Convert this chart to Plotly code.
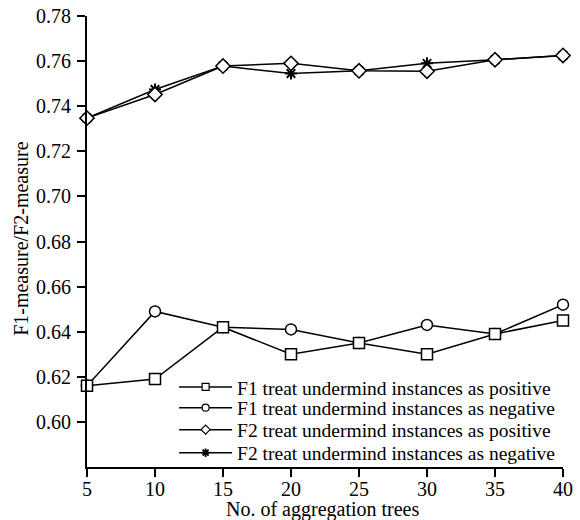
import plotly.graph_objects as go

trees = [5, 10, 15, 20, 25, 30, 35, 40]
f1_pos = [0.616, 0.619, 0.642, 0.630, 0.635, 0.630, 0.639, 0.645]
f1_neg = [0.616, 0.649, 0.642, 0.641, 0.635, 0.643, 0.639, 0.652]
f2_pos = [0.7347, 0.7452, 0.7578, 0.759, 0.7557, 0.7555, 0.7606, 0.7625]
f2_neg = [0.7347, 0.7474, 0.7578, 0.7545, 0.7557, 0.759, 0.7606, 0.7625]
names = ["F1 treat undermind instances as positive",
         "F1 treat undermind instances as negative",
         "F2 treat undermind instances as positive",
         "F2 treat undermind instances as negative"]
yticks = [0.60, 0.62, 0.64, 0.66, 0.68, 0.70, 0.72, 0.74, 0.76, 0.78]
xticks = [5, 10, 15, 20, 25, 30, 35, 40]
x_title = "No. of aggregation trees"
y_title = "F1-measure/F2-measure"

font = "Liberation Serif"
fig = go.Figure()
series = [(f1_pos, "square", 11, 7), (f1_neg, "circle", 11, 7),
          (f2_pos, "diamond", 11, 7), (f2_neg, "asterisk-open", 10, 7)]
legend_ids = ["legend", "legend2", "legend3", "legend4"]
draw_order = [1, 0, 3, 2]  # hollow markers drawn over the ones they hide

for i in draw_order:
    vals, sym, sz, lsz = series[i]
    star = sym.startswith("asterisk")
    mcol = "black" if star else "white"
    fig.add_trace(go.Scatter(
        x=trees, y=vals, name=names[i], mode="lines+markers", showlegend=False,
        line=dict(color="black", width=1.5),
        marker=dict(symbol=sym, size=sz, color=mcol,
                    line=dict(color="black", width=2 if star else 1.5)),
        cliponaxis=False,
    ))
for i in range(4):
    vals, sym, sz, lsz = series[i]
    star = sym.startswith("asterisk")
    mcol = "black" if star else "white"
    fig.add_trace(go.Scatter(
        x=[None], y=[None], name=names[i], mode="lines+markers", showlegend=True,
        legend=legend_ids[i],
        line=dict(color="black", width=1.5),
        marker=dict(symbol=sym, size=lsz, color=mcol,
                    line=dict(color="black", width=1.8 if star else 1.2)),
    ))

leg_y = [0.1769, 0.1308, 0.0820, 0.0310]
leg_common = dict(x=0.183, xanchor="left", yanchor="middle",
                  bgcolor="rgba(0,0,0,0)", font=dict(family=font, size=19.5),
                  itemwidth=53, borderwidth=0)

annotations = []
for v in xticks:
    annotations.append(dict(text=str(v), xref="x", x=v, yref="paper", y=0,
                            xanchor="center", yanchor="top", yshift=-9,
                            showarrow=False, font=dict(family=font, size=20)))
for v in yticks:
    annotations.append(dict(text=f"{v:.2f}", xref="paper", x=0, yref="y", y=v,
                            xanchor="right", yanchor="middle", xshift=-14,
                            showarrow=False, font=dict(family=font, size=20)))
annotations.append(dict(text=x_title, xref="paper", yref="paper", x=0.495, y=-0.0945,
                        xanchor="center", yanchor="middle", showarrow=False,
                        font=dict(family=font, size=20)))
annotations.append(dict(text=y_title, xref="paper", yref="paper", x=-0.1387, y=0.508,
                        xanchor="center", yanchor="middle", showarrow=False,
                        textangle=-90, font=dict(family=font, size=20)))

fig.update_layout(
    width=580, height=520,
    margin=dict(l=87, r=17, t=16, b=53, autoexpand=False),
    paper_bgcolor="white", plot_bgcolor="white",
    font=dict(family=font, size=20, color="black"),
    showlegend=True,
    legend=dict(y=leg_y[0], **leg_common),
    legend2=dict(y=leg_y[1], **leg_common),
    legend3=dict(y=leg_y[2], **leg_common),
    legend4=dict(y=leg_y[3], **leg_common),
    xaxis=dict(range=[5, 40], tickvals=xticks, showgrid=False, zeroline=False,
               showline=True, linecolor="black", linewidth=2,
               ticks="outside", ticklen=8, tickwidth=2, tickcolor="black",
               showticklabels=False, automargin=False),
    yaxis=dict(range=[0.58, 0.78], tickvals=yticks,
               showgrid=False, zeroline=False,
               showline=True, linecolor="black", linewidth=2,
               ticks="outside", ticklen=8, tickwidth=2, tickcolor="black",
               showticklabels=False, automargin=False),
    annotations=annotations,
)
fig.write_html("out.html")
